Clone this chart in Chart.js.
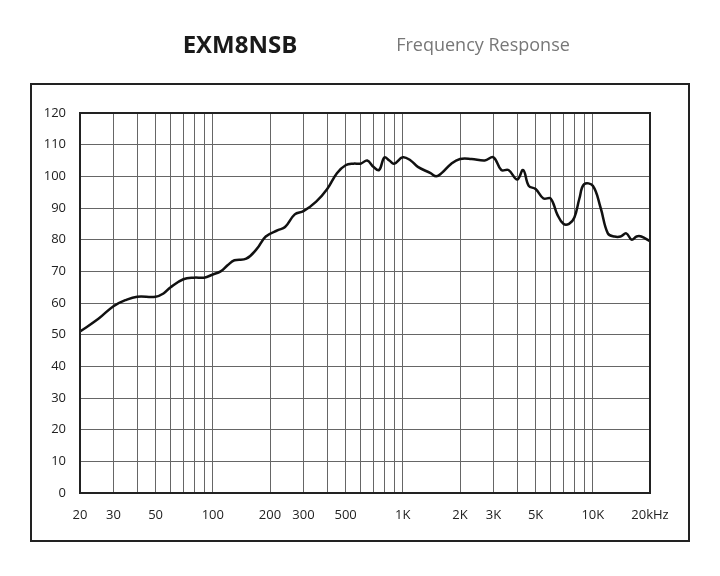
<!DOCTYPE html>
<html><head><meta charset="utf-8">
<script src="https://cdn.jsdelivr.net/npm/chart.js@4"></script>
<style>html,body{margin:0;background:#fff}#w{width:720px;height:576px}</style>
</head><body><div id="w"><canvas id="c"></canvas></div>
<script>
const freqs=[20,25,30,35,40,50,55,60,70,80,90,100,110,120,130,150,170,190,220,240,270,300,350,400,450,500,550,600,650,700,750,800,850,900,1000,1100,1200,1400,1500,1600,1800,2000,2300,2700,3000,3300,3600,4000,4300,4600,5000,5500,6000,6500,7000,7500,8000,8500,9000,10000,11000,12000,13000,14000,15000,16000,17000,18000,20000];
const spl=[51,55,59,61,62,62,63,65,67.5,68,68,69,70,72,73.5,74,77,81,83,84,88,89,92,96,101,103.5,104,104,105,103,102,106,105,104,106,105,103,101,100,101,104,105.5,105.5,105,106,102,102,99,102,97,96,93,93,88,85,85,87,93,97.5,97,90,82,81,81,82,80,81,81,79.5];
const gridFreqs=[20,30,40,50,60,70,80,90,100,200,300,400,500,600,700,800,900,1000,2000,3000,4000,5000,6000,7000,8000,9000,10000,20000];
const tickLabels={20:'20',30:'30',50:'50',100:'100',200:'200',300:'300',500:'500',1000:'1K',2000:'2K',3000:'3K',5000:'5K',10000:'10K',20000:'20kHz'};
const deco={id:'deco',afterDraw(ch){const c=ch.ctx,a=ch.chartArea;c.save();
c.strokeStyle='#222';c.lineWidth=2;c.strokeRect(31,84,658,457);
c.lineWidth=2;c.strokeRect(a.left,a.top,a.right-a.left,a.bottom-a.top);
c.textBaseline='middle';c.fillStyle='#1a1a1a';c.font='bold 24px "Open Sans"';c.textAlign='center';c.fillText('EXM8NSB',240,46);
c.fillStyle='#777';c.font='18px "Open Sans"';c.fillText('Frequency Response',483,46);c.restore();}};
new Chart(document.getElementById('c'),{type:'line',
data:{datasets:[{data:freqs.map((f,i)=>({x:f,y:spl[i]})),borderColor:'#111',borderWidth:2.5,tension:0.4,pointRadius:0,fill:false}]},
options:{responsive:true,maintainAspectRatio:false,animation:false,
layout:{padding:{left:40,right:70,top:113,bottom:53}},
plugins:{legend:{display:false},tooltip:{enabled:false}},
scales:{
x:{type:'logarithmic',min:20,max:20000,afterFit(s){s.height=30;},
afterBuildTicks(s){s.ticks=gridFreqs.map(v=>({value:v}));},
grid:{color:'#666',lineWidth:1,drawTicks:false},border:{display:false},
ticks:{autoSkip:false,maxRotation:0,padding:14,color:'#222',font:{family:'Open Sans',size:13},callback:v=>tickLabels[v]||''}},
y:{min:0,max:120,afterFit(s){s.width=40;},
grid:{color:'#666',lineWidth:1,drawTicks:false},border:{display:false},
ticks:{stepSize:10,padding:14,color:'#222',font:{family:'Open Sans',size:13}}}}},
plugins:[deco]});
</script></body></html>
